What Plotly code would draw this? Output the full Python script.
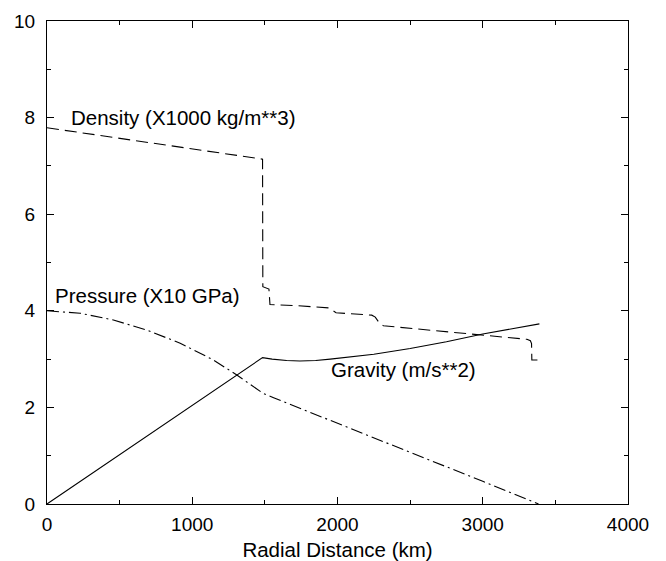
import plotly.graph_objects as go

# Density (X1000 kg/m**3)
density_r = [0, 1484, 1486, 1528, 1535, 1700, 1940, 1960, 1990, 2236, 2260, 2290, 2316, 3304, 3328, 3336, 3338, 3390]
density_v = [7.79, 7.14, 4.50, 4.45, 4.13, 4.11, 4.06, 4.02, 3.96, 3.91, 3.87, 3.74, 3.69, 3.41, 3.38, 3.32, 2.98, 2.98]

# Pressure (X10 GPa)
pressure_r = [0, 228, 457, 687, 917, 1147, 1307, 1488, 1560, 1948, 2500, 3000, 3384]
pressure_v = [4.00, 3.95, 3.81, 3.60, 3.33, 2.98, 2.67, 2.29, 2.20, 1.74, 1.07, 0.47, 0.00]

# Gravity (m/s**2)
gravity_r = [0, 1484, 1550, 1650, 1741, 1850, 1950, 2086, 2250, 2500, 2750, 3000, 3200, 3390]
gravity_v = [0.00, 3.03, 3.00, 2.97, 2.96, 2.97, 3.00, 3.05, 3.10, 3.22, 3.36, 3.52, 3.63, 3.73]

labels = ["Density (X1000 kg/m**3)", "Pressure (X10 GPa)", "Gravity (m/s**2)"]
label_r = [150, 41, 1943]
label_v = [8.01, 4.32, 2.78]

x_ticks = [0, 1000, 2000, 3000, 4000]
y_ticks = [0, 2, 4, 6, 8, 10]

FONT = "Liberation Sans, Arial, Helvetica, sans-serif"

fig = go.Figure()
fig.add_trace(go.Scatter(x=density_r, y=density_v, mode="lines",
                         line=dict(color="black", width=1.1, dash="12px,6px"), showlegend=False))
fig.add_trace(go.Scatter(x=pressure_r, y=pressure_v, mode="lines",
                         line=dict(color="black", width=1.1, dash="12px,4px,2px,4px"), showlegend=False))
fig.add_trace(go.Scatter(x=gravity_r, y=gravity_v, mode="lines",
                         line=dict(color="black", width=1.1), showlegend=False))

for t, xr, yv in zip(labels, label_r, label_v):
    fig.add_annotation(x=xr, y=yv, text=t, showarrow=False, xanchor="left", yanchor="middle",
                       font=dict(family=FONT, size=20.5, color="black"))

axis_common = dict(showline=True, linecolor="black", linewidth=1, mirror="ticks",
                   ticks="inside", ticklen=7, tickcolor="black", tickwidth=1,
                   showgrid=False, zeroline=False, automargin=False,
                   tickfont=dict(family=FONT, size=19, color="black"))

fig.update_xaxes(range=[0, 4000], tickvals=x_ticks, ticktext=[str(v) for v in x_ticks],
                 ticklabelstandoff=3,
                 minor=dict(ticks="inside", dtick=500, ticklen=4, tickcolor="black", showgrid=False),
                 title=dict(text="Radial Distance (km)", font=dict(family=FONT, size=20.5, color="black"), standoff=8),
                 **axis_common)
fig.update_yaxes(range=[0, 10], tickvals=y_ticks, ticktext=[str(v) for v in y_ticks],
                 ticklabelstandoff=7,
                 minor=dict(ticks="inside", dtick=1, ticklen=4, tickcolor="black", showgrid=False),
                 **axis_common)

fig.update_layout(width=666, height=561, margin=dict(l=47, r=38, t=21, b=57),
                  paper_bgcolor="white", plot_bgcolor="white",
                  font=dict(family=FONT, size=19, color="black"))

fig.write_html("out.html")
